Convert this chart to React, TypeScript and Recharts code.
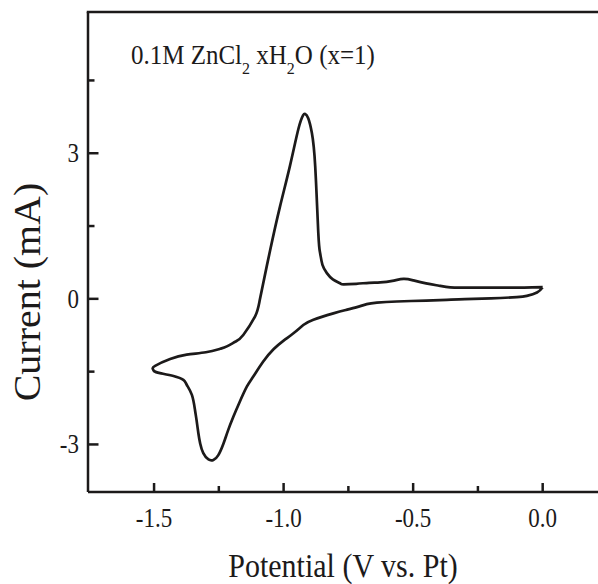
import { LineChart, Line, XAxis, YAxis, Label } from 'recharts';

// CV loop, traced from the right tip: cathodic sweep first, then back
const potential = [
  0.0, -0.022, -0.061, -0.1, -0.2, -0.3, -0.37, -0.45, -0.563, -0.64,
  -0.679, -0.717, -0.76, -0.808, -0.885, -0.924, -0.962, -1.0, -1.039, -1.08,
  -1.117, -1.142, -1.17, -1.194, -1.215, -1.232, -1.252, -1.271, -1.29, -1.31,
  -1.322, -1.329, -1.336, -1.342, -1.354, -1.374, -1.387, -1.425, -1.477, -1.5,
  -1.505, -1.496, -1.438, -1.374, -1.3, -1.245, -1.219, -1.185, -1.155, -1.11,
  -1.091, -1.052, -1.014, -0.975, -0.943, -0.925, -0.917, -0.905, -0.891, -0.878,
  -0.866, -0.859, -0.85, -0.833, -0.81, -0.782, -0.769, -0.72, -0.67, -0.627,
  -0.58, -0.537, -0.499, -0.45, -0.4, -0.357, -0.3, -0.2, -0.1, -0.04, 0.0,
];
const current = [
  0.24, 0.13, 0.06, 0.035, 0.01, -0.005, -0.02, -0.035, -0.055, -0.08,
  -0.11, -0.17, -0.23, -0.3, -0.43, -0.54, -0.71, -0.86, -1.04, -1.3,
  -1.6, -1.81, -2.13, -2.43, -2.72, -2.98, -3.22, -3.32, -3.31, -3.18,
  -2.98, -2.77, -2.5, -2.29, -1.98, -1.77, -1.67, -1.59, -1.53, -1.49,
  -1.44, -1.38, -1.24, -1.15, -1.1, -1.03, -0.98, -0.88, -0.74, -0.36,
  0.0, 1.0, 1.9, 2.75, 3.5, 3.78, 3.81, 3.72, 3.42, 2.73,
  1.35, 0.94, 0.7, 0.53, 0.4, 0.32, 0.3, 0.31, 0.33, 0.34,
  0.37, 0.41, 0.38, 0.32, 0.27, 0.235, 0.23, 0.23, 0.23, 0.235, 0.24,
];

const xTicks = [-1.5, -1.25, -1.0, -0.75, -0.5, -0.25, 0.0];
const yTicks = [-3, -1.5, 0, 1.5, 3, 4.5];

const data = potential.map((x, i) => ({ x, y: current[i] }));

const INK = '#1c1a1a';
const FONT = '"Liberation Serif", "Times New Roman", serif';

function XTick({ x, y, payload }: any) {
  const v = payload.value;
  const major = Math.abs(v * 2 - Math.round(v * 2)) < 1e-6;
  return (
    <g>
      <line x1={x} x2={x} y1={y} y2={y - (major ? 9 : 6)} stroke={INK} strokeWidth={2.5} />
      {major && (
        <text
          transform={`translate(${x} ${y + 35}) scale(1 1.15)`}
          textAnchor="middle"
          fontSize={23}
          fontFamily={FONT}
          fill={INK}
        >
          {v.toFixed(1)}
        </text>
      )}
    </g>
  );
}

function YTick({ x, y, payload }: any) {
  const v = payload.value;
  const major = Math.abs(v / 3 - Math.round(v / 3)) < 1e-6;
  return (
    <g>
      <line x1={x} x2={x + (major ? 10.5 : 6.5)} y1={y} y2={y} stroke={INK} strokeWidth={2.5} />
      {major && (
        <text
          transform={`translate(${x - 9} ${y + 9}) scale(1 1.15)`}
          textAnchor="end"
          fontSize={23}
          fontFamily={FONT}
          fill={INK}
        >
          {String(v)}
        </text>
      )}
    </g>
  );
}

export default function App() {
  return (
    <div style={{ position: 'absolute', left: 0, top: 0, width: 598, height: 584, background: '#fff', overflow: 'hidden' }}>
      <LineChart width={598} height={584} data={data} margin={{ top: 12, right: 0, bottom: 0, left: 0 }}>
        <XAxis
          dataKey="x"
          type="number"
          domain={[-1.755, 0.2135]}
          allowDataOverflow
          ticks={xTicks}
          interval={0}
          tick={<XTick />}
          tickLine={false}
          tickSize={0}
          tickMargin={0}
          height={92}
          axisLine={{ stroke: INK, strokeWidth: 2.5 }}
        >
          <Label
            content={() => (
              <text
                transform="translate(343 577) scale(1 1.12)"
                textAnchor="middle"
                fontSize={30}
                fontFamily={FONT}
                fill={INK}
              >
                Potential (V vs. Pt)
              </text>
            )}
          />
        </XAxis>
        <YAxis
          dataKey="y"
          type="number"
          domain={[-3.98, 5.91]}
          allowDataOverflow
          ticks={yTicks}
          interval={0}
          tick={<YTick />}
          tickLine={false}
          tickSize={0}
          tickMargin={0}
          width={88}
          axisLine={{ stroke: INK, strokeWidth: 2.5 }}
        >
          <Label
            content={({ viewBox }: any) => (
              <g>
                {/* top frame line of the plot box */}
                <line
                  x1={viewBox.x + viewBox.width - 1.25}
                  x2={598}
                  y1={viewBox.y}
                  y2={viewBox.y}
                  stroke={INK}
                  strokeWidth={2.5}
                />
                <text
                  transform="translate(131 64) scale(1 1.1)"
                  fontSize={25}
                  fontFamily={FONT}
                  fill={INK}
                >
                  <tspan>0.1M ZnCl</tspan>
                  <tspan fontSize={16} dy={9}>2</tspan>
                  <tspan dy={-9}> xH</tspan>
                  <tspan fontSize={16} dy={9}>2</tspan>
                  <tspan dy={-9}>O (x=1)</tspan>
                </text>
                <text
                  transform="translate(40 292) rotate(-90) scale(1.08 1)"
                  textAnchor="middle"
                  fontSize={37}
                  fontFamily={FONT}
                  fill={INK}
                >
                  Current (mA)
                </text>
              </g>
            )}
          />
        </YAxis>
        <Line
          dataKey="y"
          type="natural"
          stroke={INK}
          strokeWidth={2.7}
          dot={false}
          isAnimationActive={false}
        />
      </LineChart>
    </div>
  );
}
